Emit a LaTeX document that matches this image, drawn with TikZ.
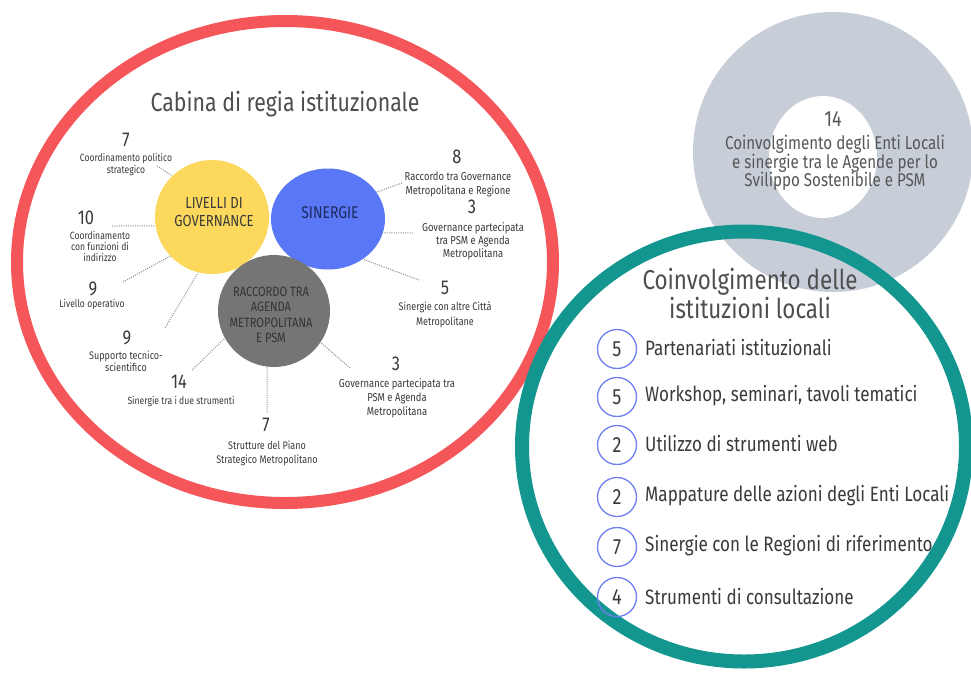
\documentclass[tikz,border=0pt]{standalone}
\usepackage{fontspec}
\setmainfont{Fira Sans}[FakeStretch=0.82]
\usetikzlibrary{shapes.geometric}
\definecolor{ringred}{HTML}{F4565A}
\definecolor{ringteal}{HTML}{13968F}
\definecolor{donut}{HTML}{C8CED8}
\definecolor{venyel}{HTML}{FCD95C}
\definecolor{venblu}{HTML}{5A78F5}
\definecolor{vengry}{HTML}{757575}
\definecolor{navytxt}{HTML}{1B2A5E}
\definecolor{txt}{HTML}{3A3A3A}
\definecolor{dotc}{HTML}{8A8A8A}
\definecolor{listblu}{HTML}{6E7FF0}
\newcommand\fsz[2]{\fontsize{#1}{#2}\selectfont}
\begin{document}
\begin{tikzpicture}[x=1pt,y=-1pt,
  num/.style={inner sep=0, text=txt, font=\fsz{20}{20}},
  lbl/.style={inner sep=0, text=txt, align=center, font=\fsz{11}{13}},
  dotline/.style={draw=dotc, line width=1, dash pattern=on 1pt off 1.3pt},
  venn/.style={inner sep=0, draw=none},
  ventxt/.style={inner sep=0, align=center},
  itemc/.style={circle, draw=listblu, line width=1.3, minimum size=39, inner sep=0, text=txt, font=\fsz{22}{22}},
  itemt/.style={anchor=west, inner sep=0, text=txt, font=\fsz{20.8}{22}}
]
\useasboundingbox (0,0) rectangle (971,673);
\fill[white] (0,0) rectangle (971,673);

% grey donut
\fill[donut] (833,152) circle[radius=140];
\fill[white] (823,157) ellipse[x radius=54, y radius=61];

% rings
\draw[ringred, line width=12] (285,262) ellipse[x radius=268, y radius=241];
\draw[ringteal, line width=14] (744,446.5) ellipse[x radius=222, y radius=215];

% title left
\node[inner sep=0, text=txt!90, font=\fsz{26}{26}] (title) at (285,104) {Cabina di regia istituzionale};

% venn circles
\node[venn, circle, fill=venyel, minimum size=114] (yel) at (212,217) {};
\node[venn, ellipse, fill=venblu, minimum width=114, minimum height=101] (blu) at (328,219) {};
\node[venn, circle, fill=vengry, minimum size=112] (gry) at (274,311) {};
\node[ventxt, text=txt, font=\fsz{16}{18}] (yeltxt) at (214,212) {LIVELLI DI\\GOVERNANCE};
\node[ventxt, text=navytxt, font=\fsz{17}{18}] (blutxt) at (330,213) {SINERGIE};
\node[ventxt, text=txt!90!black, font=\fsz{13.5}{15.5}] (grytxt) at (271,315) {RACCORDO TRA\\AGENDA\\METROPOLITANA\\E PSM};

% left labels
\node[num] (n1) at (126,140) {7};
\node[lbl, font=\fsz{10.5}{11.5}] (t1) at (126,164.5) {Coordinamento politico\\strategico};
\coordinate (c1) at (157,166);
\draw[dotline] (c1) -- (yel.134);

\node[num] (n2) at (86,218) {10};
\node[lbl, font=\fsz{10.5}{11}] (t2) at (100,246) {Coordinamento\\con funzioni di\\indirizzo};
\coordinate (c2) at (112,226);
\draw[dotline] (c2) -- (yel.189);

\node[num] (n3) at (93,289) {9};
\node[lbl, font=\fsz{10.5}{12}] (t3) at (92,305) {Livello operativo};
\coordinate (c3) at (123,282);
\draw[dotline] (c3) -- (yel.223);

\node[num] (n4) at (127,338) {9};
\node[lbl, font=\fsz{11}{12}] (t4) at (126,361) {Supporto tecnico-\\scientifico};
\coordinate (c4) at (165,328);
\draw[dotline] (c4) -- (yel.256);

\node[num] (n5) at (179,382) {14};
\node[lbl, font=\fsz{10.5}{12}] (t5) at (181,402) {Sinergie tra i due strumenti};
\coordinate (c5) at (192,370);
\draw[dotline] (c5) -- (gry.209);

\node[num] (n6) at (266,425) {7};
\node[lbl, font=\fsz{11}{14}] (t6) at (267,453) {Strutture del Piano\\Strategico Metropolitano};
\coordinate (c6) at (267,412);
\draw[dotline] (c6) -- (gry.263);

\node[num] (n7) at (396,364) {3};
\node[lbl, font=\fsz{11.5}{14}] (t7) at (397,398) {Governance partecipata tra\\PSM e Agenda\\Metropolitana};
\coordinate (c7) at (350,368);
\draw[dotline] (c7) -- (gry.326);

% right labels
\node[num] (n8) at (457,157) {8};
\node[lbl, font=\fsz{11.5}{14}] (t8) at (458,184) {Raccordo tra Governance\\Metropolitana e Regione};
\coordinate (c8) at (402,183);
\draw[dotline] (c8) -- (blu.29);

\node[num] (n9) at (472,207) {3};
\node[lbl, font=\fsz{11.5}{13}] (t9) at (473,241) {Governance partecipata\\tra PSM e Agenda\\Metropolitana};
\coordinate (c9) at (413,233);
\draw[dotline] (c9) -- (blu.346);

\node[num] (n10) at (445,288) {5};
\node[lbl, font=\fsz{11}{15}] (t10) at (445,314.5) {Sinergie con altre Città\\Metropolitane};
\coordinate (c10) at (419,280);
\draw[dotline] (c10) -- (blu.311);

% grey donut text
\node[inner sep=0, text=txt!85, font=\fsz{22}{22}] (dn) at (833,119) {14};
\node[inner sep=0, text=txt!85, align=center, font=\fsz{18.5}{18.5}] (dt) at (835,163) {Coinvolgimento degli Enti Locali\\e sinergie tra le Agende per lo\\Svilippo Sostenibile e PSM};

% teal title
\node[inner sep=0, text=txt!90, align=center, font=\fsz{27.3}{27}] (ttitle) at (750,293.5) {Coinvolgimento delle\\istituzioni locali};

% list
\node[itemc] (i1) at (617,349) {5};
\node[itemc] (i2) at (617,397) {5};
\node[itemc] (i3) at (617,445) {2};
\node[itemc] (i4) at (617,497) {2};
\node[itemc] (i5) at (617,547) {7};
\node[itemc] (i6) at (617,597) {4};
\node[itemt] (l1) at (645,348) {Partenariati istituzionali};
\node[itemt] (l2) at (645,396) {Workshop, seminari, tavoli tematici};
\node[itemt] (l3) at (645,444) {Utilizzo di strumenti web};
\node[itemt] (l4) at (645,496) {Mappature delle azioni degli Enti Locali};
\node[itemt] (l5) at (645,546) {Sinergie con le Regioni di riferimento};
\node[itemt] (l6) at (645,596) {Strumenti di consultazione};
\end{tikzpicture}
\end{document}
